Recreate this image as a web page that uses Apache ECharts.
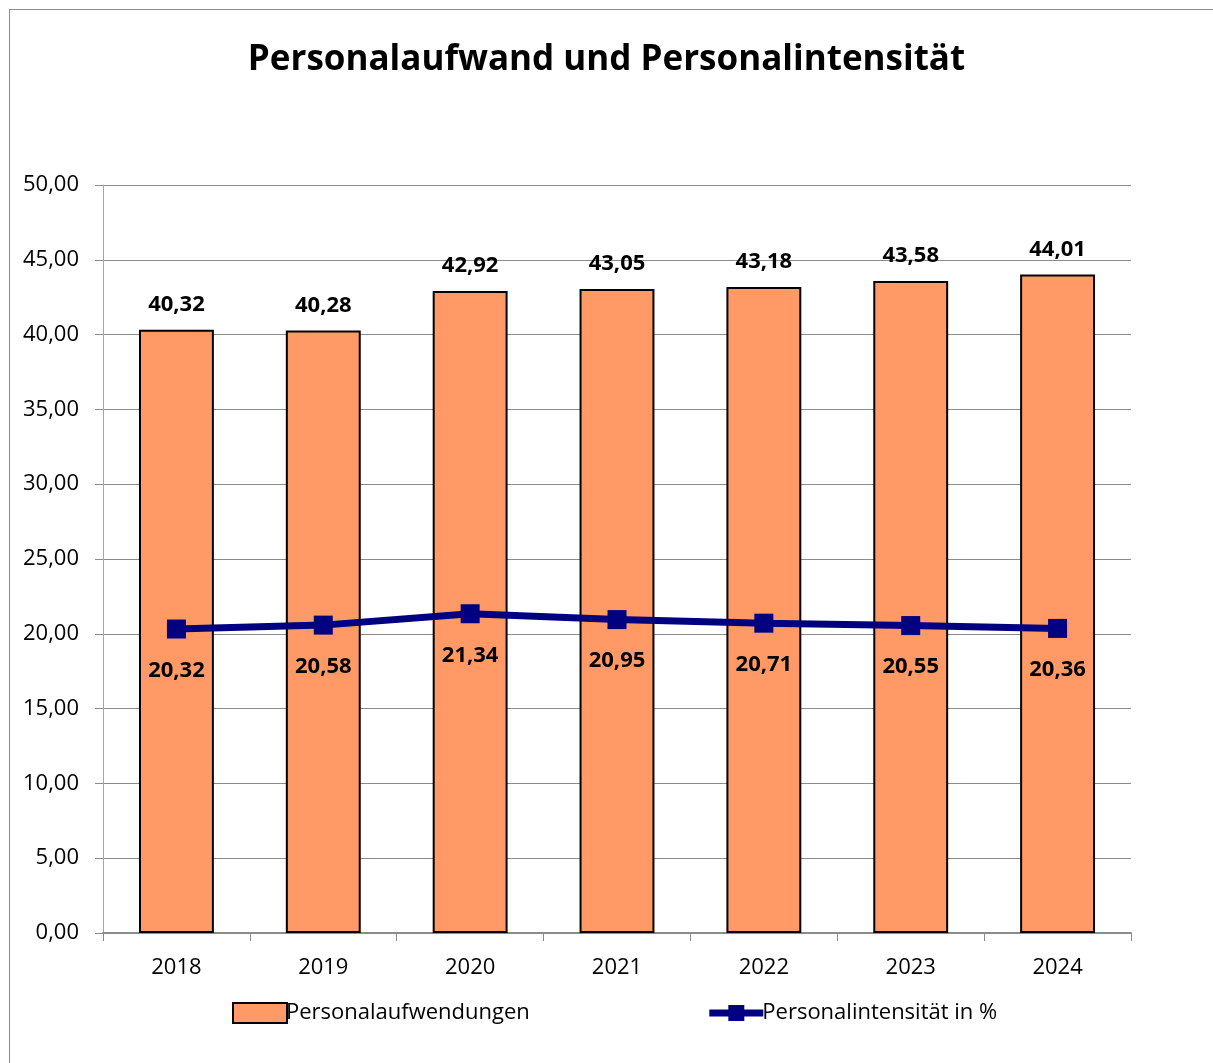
<!DOCTYPE html>
<html><head><meta charset="utf-8">
<script src="https://cdn.jsdelivr.net/npm/echarts@6/dist/echarts.min.js"></script>
<style>html,body{margin:0;padding:0;background:#fff}#c{width:1213px;height:1063px}
#frame{position:absolute;left:9px;top:9px;width:1210px;height:1060px;border:1px solid #8c8c8c;box-sizing:border-box;pointer-events:none}</style>
</head><body><div id="c"></div><div id="frame"></div>
<script>
const years = ['2018','2019','2020','2021','2022','2023','2024'];
const aufwand = [40.32, 40.28, 42.92, 43.05, 43.18, 43.58, 44.01];
const intensitaet = [20.32, 20.58, 21.34, 20.95, 20.71, 20.55, 20.36];
const yTicks = [0, 5, 10, 15, 20, 25, 30, 35, 40, 45, 50];

const fmt = v => v.toFixed(2).replace('.', ',');
const FONT = '"Open Sans", "DejaVu Sans", sans-serif';
const chart = echarts.init(document.getElementById('c'));
chart.setOption({
  animation: false,
  title: { text: 'Personalaufwand und Personalintensität', left: 'center', top: 38,
    textStyle: { fontFamily: FONT, fontWeight: 'bold', fontSize: 35, color: '#000' } },
  grid: { left: 103, right: 82, top: 185, bottom: 130, containLabel: false },
  legend: { bottom: 34, left: 227, itemGap: 176, itemWidth: 54, itemHeight: 20,
    textStyle: { fontFamily: FONT, fontSize: 22, color: '#000', padding: [0,0,0,-6] },
    data: [
      { name: 'Personalaufwendungen', icon: 'rect' },
      { name: 'Personalintensität in %', lineStyle: { width: 7, color: '#000080' } }
    ] },
  xAxis: { type: 'category', data: years,
    axisLine: { lineStyle: { color: '#8c8c8c', width: 2 } },
    axisTick: { show: true, length: 8, lineStyle: { color: '#8c8c8c' } },
    axisLabel: { fontFamily: FONT, fontSize: 22, color: '#000', margin: 24 } },
  yAxis: { type: 'value', min: yTicks[0], max: yTicks[yTicks.length-1], interval: 5,
    axisLine: { show: true, lineStyle: { color: '#a6a6a6', width: 1 } },
    axisTick: { show: true, length: 8, lineStyle: { color: '#8c8c8c' } },
    splitLine: { lineStyle: { color: '#8c8c8c', width: 1 } },
    axisLabel: { fontFamily: FONT, fontSize: 22, color: '#000', margin: 24, formatter: v => fmt(v) } },
  series: [
    { name: 'Personalaufwendungen', type: 'bar', data: aufwand, barWidth: '51%',
      itemStyle: { color: '#FF9966', borderColor: '#000', borderWidth: 2 },
      label: { show: true, position: 'top', distance: 14, formatter: p => fmt(p.value),
        fontFamily: FONT, fontWeight: 'bold', fontSize: 22, color: '#000' } },
    { name: 'Personalintensität in %', type: 'line', data: intensitaet,
      symbol: 'rect', symbolSize: 19,
      lineStyle: { color: '#000080', width: 7 }, itemStyle: { color: '#000080' },
      label: { show: true, position: 'bottom', distance: 21, formatter: p => fmt(p.value),
        fontFamily: FONT, fontWeight: 'bold', fontSize: 22, color: '#000' } }
  ]
});
</script></body></html>
